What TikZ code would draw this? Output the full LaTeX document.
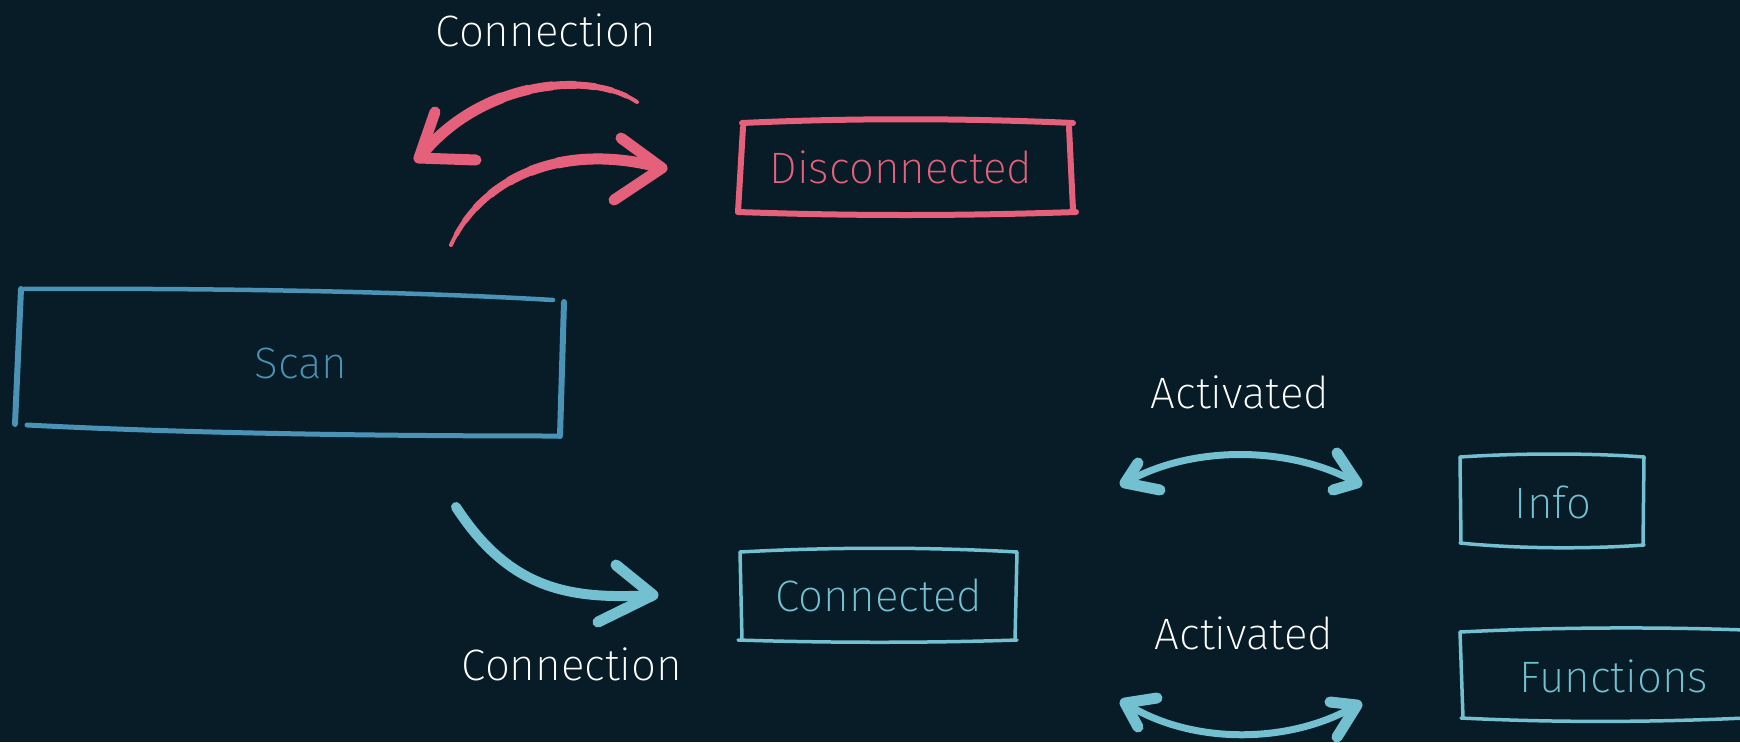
\documentclass[tikz,border=0pt]{standalone}
\usepackage{fontspec}
\setmainfont{Fira Sans}[UprightFont=* ExtraLight]
\definecolor{bg}{HTML}{071C27}
\definecolor{redc}{HTML}{E5607A}
\definecolor{scanc}{HTML}{4A93B6}
\definecolor{cyanc}{HTML}{73C1D0}
\tikzset{
  lbl/.style={text=white,font=\fontsize{44}{50}\selectfont,inner sep=0pt},
  boxtext/.style={font=\fontsize{44}{50}\selectfont,inner sep=0pt},
  sketch/.style={line cap=round,line join=round},
  barbline/.style={line width=11pt,line cap=round,line join=round},
  skip/.style={dash pattern=on 2000pt off #1, dash phase=2000pt},
}
% tapered stroke: colour, path
\newcommand\taperstroke[2]{%
  \draw[#1,line width=4pt,line cap=round] #2;
  \draw[#1,line width=5pt,line cap=round,skip=12pt] #2;
  \draw[#1,line width=6pt,line cap=round,skip=28pt] #2;
  \draw[#1,line width=7pt,line cap=round,skip=45pt] #2;
  \draw[#1,line width=8pt,line cap=round,skip=65pt] #2;
  \draw[#1,line width=9pt,line cap=round,skip=88pt] #2;
  \draw[#1,line width=10pt,line cap=round,skip=112pt] #2;
  \draw[#1,line width=11pt,line cap=round,skip=140pt] #2;
}
\begin{document}
\begin{tikzpicture}[x=1pt,y=-1pt]
\fill[bg] (0,0) rectangle (1740,742);
\useasboundingbox (0,0) rectangle (1740,742);

% labels
\node[lbl] (lconn1) at (546,30) {Connection};
\node[lbl] (lconn2) at (572,664) {Connection};
\node[lbl] (lact1) at (1240,392) {Activated};
\node[lbl] (lact2) at (1244,633) {Activated};

% box texts
\node[boxtext,text=redc] (disc) at (901,167) {Disconnected};
\node[boxtext,text=scanc] (scan) at (301,363) {Scan};
\node[boxtext,text=cyanc] (conn) at (879,595) {Connected};
\node[boxtext,text=cyanc] (info) at (1553,502) {Info};
\node[boxtext,text=cyanc] (func) at (1614,676) {Functions};

% Disconnected box
\begin{scope}[sketch,draw=redc,line width=6pt]
\draw (742,123) .. controls (850,118) and (960,118) .. (1073,123);
\draw (743,127) -- (738,212);
\draw (738,212) .. controls (850,216) and (960,216) .. (1076,212);
\draw (1069,127) -- (1073,210);
\end{scope}

% Scan box
\begin{scope}[sketch,draw=scanc]
\draw[line width=6pt] (21,289) -- (15,424);
\draw[line width=4.5pt] (23,289) .. controls (200,288) and (400,291) .. (553,300);
\draw[line width=6pt] (564,302) -- (560,436);
\draw[line width=5pt] (27,425) .. controls (200,434) and (400,436) .. (559,436);
\end{scope}

% Connected box
\begin{scope}[sketch,draw=cyanc,line width=3.5pt]
\draw (740,552) .. controls (830,547) and (930,547) .. (1017,552);
\draw (740,552) -- (742,640);
\draw (738,640) .. controls (830,643) and (930,643) .. (1017,640);
\draw (1017,552) -- (1015,640);
\end{scope}

% Info box
\begin{scope}[sketch,draw=cyanc,line width=3.5pt]
\draw (1460,457) .. controls (1520,453) and (1590,453) .. (1644,457);
\draw (1460,457) -- (1461,543);
\draw (1460,543) .. controls (1520,549) and (1590,549) .. (1644,545);
\draw (1644,457) -- (1643,545);
\end{scope}

% Functions box
\begin{scope}[sketch,draw=cyanc,line width=3.5pt]
\draw (1460,632) .. controls (1560,627) and (1660,627) .. (1745,630);
\draw (1460,632) -- (1463,718);
\draw (1461,718) .. controls (1560,723) and (1660,722) .. (1745,718);
\end{scope}

% arrow coordinates
\coordinate (r1s) at (637,102);
\coordinate (r1t) at (419,158);
\coordinate (r1a) at (435,112);
\coordinate (r1b) at (476,160);
\coordinate (r2s) at (451,245);
\coordinate (r2t) at (662,168);
\coordinate (r2a) at (621,138);
\coordinate (r2b) at (614,200);
\coordinate (c1s) at (456,507);
\coordinate (c1t) at (653,595);
\coordinate (c1a) at (616,565);
\coordinate (c1b) at (598,622);
\coordinate (d1l) at (1125,483);
\coordinate (d1r) at (1357,483);
\coordinate (d2l) at (1125,703);
\coordinate (d2r) at (1357,705);

% red arrows
\taperstroke{redc}{(r1s) .. controls (590,70) and (480,80) .. (r1t)}
\draw[barbline,redc] (r1a) -- (r1t) -- (r1b);
\taperstroke{redc}{(r2s) .. controls (480,180) and (560,140) .. (r2t)}
\draw[barbline,redc] (r2a) -- (r2t) -- (r2b);

% cyan arrows
\draw[cyanc,line width=10pt,line cap=round] (c1s) .. controls (510,590) and (570,600) .. (c1t);
\draw[barbline,cyanc] (c1a) -- (c1t) -- (c1b);
\draw[cyanc,line width=7pt,line cap=round] (d1l) .. controls (1190,445) and (1290,445) .. (d1r);
\draw[barbline,cyanc] (1138,463) -- (d1l) -- (1160,490);
\draw[barbline,cyanc] (1337,453) -- (d1r) -- (1333,490);
\draw[cyanc,line width=7pt,line cap=round] (d2l) .. controls (1190,745) and (1290,745) .. (d2r);
\draw[barbline,cyanc] (1157,698) -- (d2l) -- (1138,727);
\draw[barbline,cyanc] (1330,702) -- (d2r) -- (1337,737);
\end{tikzpicture}
\end{document}
